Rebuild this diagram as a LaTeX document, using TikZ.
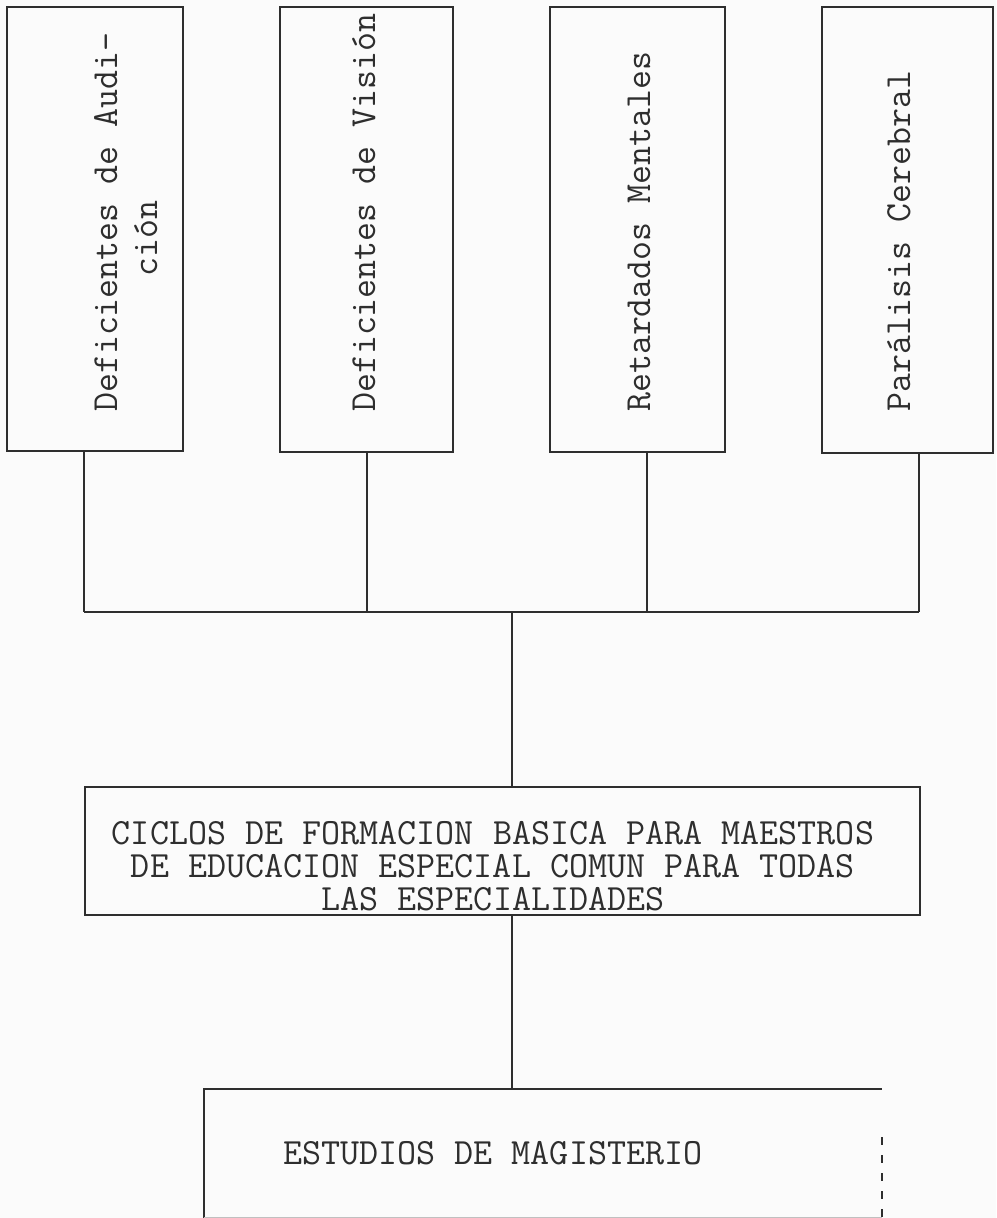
\documentclass[tikz,border=0pt]{standalone}
\usepackage{fontspec}
\definecolor{ink}{HTML}{2E2E2E}
\definecolor{paper}{HTML}{FBFBFB}
\tikzset{
  bx/.style={draw=ink, line width=1.6pt, inner sep=0pt, outer sep=0pt},
  wire/.style={draw=ink, line width=1.1pt},
  bus/.style={draw=ink, line width=1.6pt},
  vlabel/.style={rotate=90, anchor=base west, inner sep=0pt, text=ink, font=\ttfamily\fontsize{36.8}{32}\selectfont},
  hlabel/.style={inner sep=0pt, text=ink, font=\ttfamily\fontsize{37}{33}\selectfont}
}
\begin{document}
\begin{tikzpicture}[x=1pt,y=1pt]
\fill[paper] (0,0) rectangle (996,-1218);
\useasboundingbox (0,0) rectangle (996,-1218);

% top boxes
\node[bx, minimum width=176, minimum height=444] (b1) at (95,-229) {};
\node[bx, minimum width=173, minimum height=445] (b2) at (366.5,-229.5) {};
\node[bx, minimum width=175, minimum height=445] (b3) at (637.5,-229.5) {};
\node[bx, minimum width=171, minimum height=446] (b4) at (907.5,-230) {};

\node[vlabel] (t1) at (117,-412) {Deficientes de Audi-};
\node[vlabel] (t1b) at (157,-277) {ción};
\node[vlabel] (t2) at (375,-412) {Deficientes de Visión};
\node[vlabel] (t3) at (650,-412) {Retardados Mentales};
\node[vlabel] (t4) at (910,-412) {Parálisis Cerebral};

% middle box
\node[bx, minimum width=835, minimum height=128] (mid) at (502.5,-851) {};
\node[hlabel, align=center, anchor=north] (midt) at (493,-821)
  {CICLOS DE FORMACION BASICA PARA MAESTROS\\DE EDUCACION ESPECIAL COMUN PARA TODAS\\LAS ESPECIALIDADES};

% bus
\coordinate (j1) at (84,-612);
\coordinate (j2) at (367,-612);
\coordinate (j3) at (647,-612);
\coordinate (j4) at (919,-612);
\coordinate (jc) at (512,-612);
\draw[wire] (b1.south -| j1) -- (j1);
\draw[wire] (b2.south -| j2) -- (j2);
\draw[wire] (b3.south -| j3) -- (j3);
\draw[wire] (b4.south -| j4) -- (j4);
\draw[bus] (j1) -- (j4);
\draw[wire] (jc) -- (jc |- mid.north);

% bottom box
\coordinate (m1) at (204,-1089);
\coordinate (m2) at (882,-1089);
\coordinate (m3) at (204,-1218);
\coordinate (m4) at (882,-1218);
\draw[wire] (mid.south -| jc) -- (jc |- m1);
\draw[ink, line width=1.6pt] (m3) -- (m1) -- (m2);
\draw[ink, line width=1.1pt, dash pattern=on 8pt off 10pt] (882,-1137) -- (m4);
\draw[ink!30, line width=1pt] (204,-1217) -- (882,-1217);
\node[hlabel, anchor=west] (mag) at (283,-1153) {ESTUDIOS DE MAGISTERIO};
\end{tikzpicture}
\end{document}
